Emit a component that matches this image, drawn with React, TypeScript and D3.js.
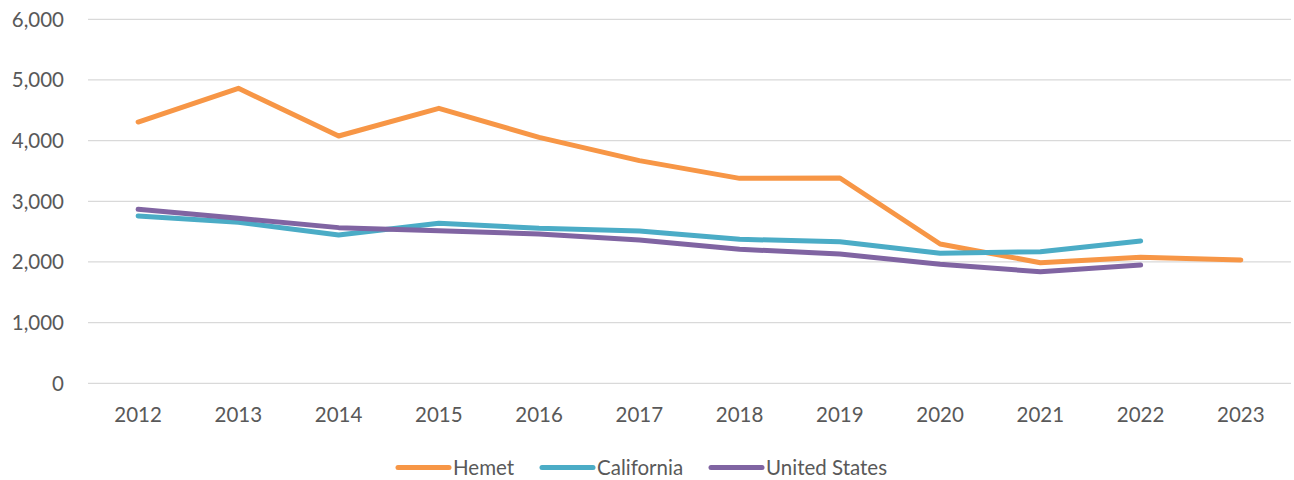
import React, { useEffect, useRef } from "react";
import * as d3 from "d3";

const years = ["2012", "2013", "2014", "2015", "2016", "2017", "2018", "2019", "2020", "2021", "2022", "2023"];
const hemet = [4307, 4862, 4076, 4533, 4054, 3670, 3378, 3384, 2296, 1988, 2077, 2032];
const california = [2758, 2654, 2444, 2637, 2555, 2510, 2373, 2334, 2143, 2170, 2346];
const unitedStates = [2868, 2720, 2566, 2516, 2461, 2362, 2209, 2131, 1961, 1840, 1950];
const yTicks = [0, 1000, 2000, 3000, 4000, 5000, 6000];

const series = [
  { name: "Hemet", values: hemet, color: "#F79646" },
  { name: "California", values: california, color: "#4BACC6" },
  { name: "United States", values: unitedStates, color: "#8064A2" },
];

const W = 1294, H = 480;
const margin = { top: 19.3, right: 3, bottom: 96.7, left: 88 };
const FONT = "Lato, 'Open Sans', sans-serif";
const FS = "20.5px";

export default function App() {
  const ref = useRef<SVGSVGElement>(null);

  useEffect(() => {
    const svg = d3.select(ref.current);
    svg.selectAll("*").remove();

    const x = d3.scaleBand().domain(years).range([margin.left, W - margin.right]);
    const y = d3.scaleLinear().domain([0, 6000]).range([H - margin.bottom, margin.top]);

    // gridlines
    svg.append("g").selectAll("line").data(yTicks).join("line")
      .attr("x1", margin.left).attr("x2", W - margin.right)
      .attr("y1", d => y(d)).attr("y2", d => y(d))
      .attr("stroke", "#d9d9d9").attr("stroke-width", 1.3);

    // y labels
    svg.append("g").selectAll("text").data(yTicks).join("text")
      .attr("x", 64).attr("y", d => y(d)).attr("dy", "0.36em")
      .attr("text-anchor", "end").attr("fill", "#595959")
      .style("font-family", FONT).style("font-size", FS)
      .text(d => d3.format(",")(d));

    // x labels
    svg.append("g").selectAll("text").data(years).join("text")
      .attr("x", d => x(d)! + x.bandwidth() / 2).attr("y", 422)
      .attr("text-anchor", "middle").attr("fill", "#595959")
      .style("font-family", FONT).style("font-size", FS)
      .text(d => d);

    const line = d3.line<number>()
      .x((_, i) => x(years[i])! + x.bandwidth() / 2)
      .y(d => y(d));

    svg.append("g").selectAll("path").data(series).join("path")
      .attr("d", d => line(d.values))
      .attr("fill", "none").attr("stroke", d => d.color)
      .attr("stroke-width", 5).attr("stroke-linejoin", "round").attr("stroke-linecap", "round");

    // legend
    const legendX = [398, 542, 711];
    const lg = svg.append("g").selectAll("g").data(series).join("g")
      .attr("transform", (_, i) => `translate(${legendX[i]}, 467.5)`);
    lg.append("line").attr("x1", 0).attr("x2", 51).attr("y1", 0).attr("y2", 0)
      .attr("stroke", d => d.color).attr("stroke-width", 5).attr("stroke-linecap", "round");
    lg.append("text").attr("x", 55).attr("y", 0).attr("dy", "0.36em")
      .attr("fill", "#595959").style("font-family", FONT).style("font-size", FS)
      .text(d => d.name);
  }, []);

  return <svg ref={ref} width={W} height={H} style={{ position: "absolute", left: 0, top: 0 }} />;
}
